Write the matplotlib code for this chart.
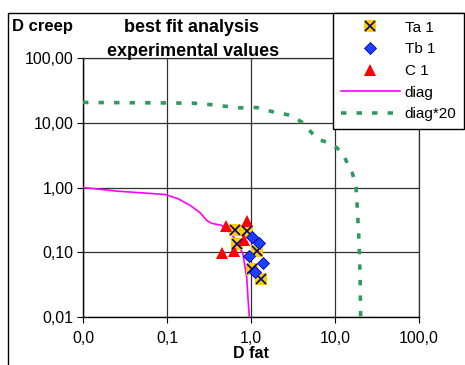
import matplotlib.pyplot as plt
from matplotlib.patches import Rectangle
from matplotlib.lines import Line2D

plt.rcParams['font.family'] = ['Liberation Sans', 'DejaVu Sans']

# diag curve
diag_x = [0.01, 0.026, 0.072, 0.095, 0.136, 0.188, 0.247, 0.297, 0.34, 0.448, 0.537, 0.65, 0.80, 0.89, 0.92, 0.955]
diag_y = [1.0, 0.877, 0.80, 0.78, 0.67, 0.53, 0.41, 0.31, 0.28, 0.26, 0.215, 0.16, 0.095, 0.041, 0.02, 0.01]

# diag*20 curve
diag20_x = [0.01, 0.199, 0.308, 0.49, 0.74, 1.17, 1.84, 2.91, 4.0, 5.04, 6.3, 7.96, 10.5, 12.4, 14.0, 16.2, 17.8, 18.4, 19.3, 19.9, 20.2]
diag20_y = [20.6, 20.1, 19.2, 18.0, 17.0, 17.2, 14.7, 13.1, 10.3, 7.46, 5.5, 5.04, 4.12, 3.33, 2.38, 1.63, 1.0, 0.50, 0.15, 0.041, 0.01]

# experimental points
ta_x = [0.646, 0.89, 0.676, 1.19, 1.02, 1.30]
ta_y = [0.221, 0.216, 0.134, 0.105, 0.055, 0.038]
tb_x = [1.02, 1.24, 0.955, 1.40, 1.12]
tb_y = [0.17, 0.137, 0.088, 0.068, 0.049]
c_x = [0.504, 0.90, 0.83, 0.448, 0.63]
c_y = [0.258, 0.30, 0.155, 0.099, 0.105]

x_ticks = [0.01, 0.1, 1, 10, 100]
x_labels = ['0,0', '0,1', '1,0', '10,0', '100,0']
y_ticks = [0.01, 0.1, 1, 10, 100]
y_labels = ['0,01', '0,10', '1,00', '10,00', '100,00']

W, H = 465, 365
fig = plt.figure(figsize=(W / 100, H / 100), dpi=100)
ax = fig.add_axes([83 / W, 1 - 317 / H, (419 - 83) / W, (317 - 58) / H])

ax.set_xscale('log')
ax.set_yscale('log')
ax.set_xlim(0.01, 100)
ax.set_ylim(0.01, 100)

green_dash = (0, (1.5, 2.8))
ax.plot(diag_x, diag_y, color='#ff00ff', lw=1.2, zorder=3)
ax.plot(diag20_x, diag20_y, color='#2e9a62', lw=2.6, linestyle=green_dash, zorder=3)

sq, = ax.plot(ta_x, ta_y, 's', color='#ffcc00', ms=8.6, mew=0, zorder=4)
xx, = ax.plot(ta_x, ta_y, 'x', color='#000080', ms=7, mew=1.2, zorder=5)
tb, = ax.plot(tb_x, tb_y, 'D', color='#1f3fff', mec='#0000b0', mew=0.6, ms=6.2, zorder=6)
cc, = ax.plot(c_x, c_y, '^', color='#ff0000', ms=8.5, mew=0, zorder=4)

ax.xaxis.set_major_locator(plt.FixedLocator(x_ticks))
ax.xaxis.set_major_formatter(plt.FixedFormatter(x_labels))
ax.yaxis.set_major_locator(plt.FixedLocator(y_ticks))
ax.yaxis.set_major_formatter(plt.FixedFormatter(y_labels))
ax.minorticks_off()
ax.tick_params(direction='out', length=4, width=0.8, labelsize=11.5, color='black')
ax.tick_params(axis='y', pad=3)
ax.tick_params(axis='x', pad=6)
ax.grid(True, color='#303030', lw=0.9)
for s in ['top', 'right']:
    ax.spines[s].set_color('#303030')
    ax.spines[s].set_linewidth(0.9)
for s in ['left', 'bottom']:
    ax.spines[s].set_linewidth(1.0)

ax.set_xlabel('D fat', fontsize=11.5, fontweight='bold', labelpad=0)

fig.text(12 / W, 1 - 27 / H, 'D creep', fontsize=12, fontweight='bold', ha='left', va='center')
fig.text(191 / W, 1 - 27 / H, 'best fit analysis', fontsize=13, fontweight='bold', ha='center', va='center')
fig.text(193 / W, 1 - 52 / H, 'experimental values', fontsize=13, fontweight='bold', ha='center', va='center')

# chart frame
fig.add_artist(Rectangle((8 / W, -0.1), 1.2, 1 - 13 / H + 0.1, transform=fig.transFigure,
                         fill=False, edgecolor='black', lw=1.0))

ln1 = Line2D([], [], color='#ff00ff', lw=1.2)
ln2 = Line2D([], [], color='#2e9a62', lw=2.6, linestyle=green_dash)
leg = fig.legend([(sq, xx), tb, cc, ln1, ln2], ['Ta 1', 'Tb 1', 'C 1', 'diag', 'diag*20'],
                 loc='upper left', bbox_to_anchor=(333 / W, 1 - 13 / H), borderaxespad=0,
                 fontsize=11, frameon=True, fancybox=False, edgecolor='black',
                 framealpha=1, handlelength=3.9, handletextpad=0.3, labelspacing=0.5,
                 borderpad=0.5)
leg.get_frame().set_linewidth(1.0)

fig.savefig('out.png', dpi=100)
